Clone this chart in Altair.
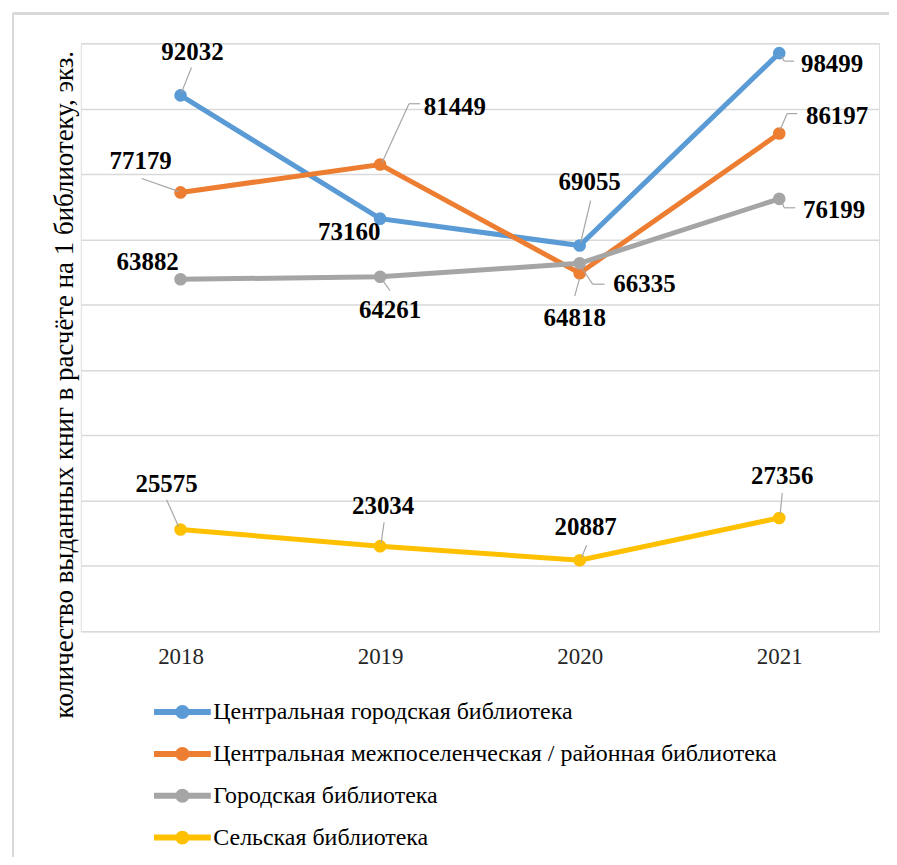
import altair as alt
import pandas as pd

# ---- data ----
years = ["2018", "2019", "2020", "2021"]
series = [
    "Центральная городская библиотека",
    "Центральная межпоселенческая / районная библиотека",
    "Городская библиотека",
    "Сельская библиотека",
]
central_city = [92032, 73160, 69055, 98499]
central_inter = [77179, 81449, 64818, 86197]
city_lib = [63882, 64261, 66335, 76199]
rural_lib = [25575, 23034, 20887, 27356]
series_values = [central_city, central_inter, city_lib, rural_lib]
colors = ["#5B9BD5", "#ED7D31", "#A5A5A5", "#FFC000"]

# ---- label layout (pixel offsets of each data label from its point) ----
label_offsets = [
    [(12, -44), (-31, 13), (10, -64), (53, 11)],
    [(-40, -31), (75, -58), (-5, 45), (58, -18)],
    [(-33, -17), (10, 33), (65, 21), (55, 11)],
    [(-14, -46), (3, -40), (6, -33), (3, -42)],
]
leader_paths = [
    [[(11, -28), (1, -3)], [], [(11, -45), (1, -3)], [(2, 3), (5, 8), (15, 8)]],
    [[(-39, -14), (-2, -1)], [(40, -61), (29, -61), (2, -2)], [(-5, 23), (0, 5)], [(1, -4), (8, -20), (18, -20)]],
    [[], [(10, 14), (3, 4)], [(3, 6), (13, 21), (25, 21)], [(3, 4), (5, 9), (16, 9)]],
    [[(-14, -30), (-2, -3)], [(4, -24), (1, -3)], [(7, -15), (2, -3)], [(3, -25), (1, -4)]],
]

rows = []
for s, vals in zip(series, series_values):
    for y, v in zip(years, vals):
        rows.append({"year": y, "series": s, "value": v})
df = pd.DataFrame(rows)

W, H = 801, 590
FONT = "Liberation Serif"

x_enc = alt.X("year:O", sort=years,
              scale=alt.Scale(type="point", padding=0.5),
              axis=alt.Axis(title=None, labelAngle=0, labelFont=FONT, labelFontSize=23,
                            labelColor="#262626", ticks=False, tickSize=0, domain=False,
                            grid=False, labelPadding=14))
y_enc = alt.Y("value:Q",
              scale=alt.Scale(domain=[10000, 100000], nice=False, zero=False),
              axis=alt.Axis(values=list(range(10000, 100001, 10000)), labels=False,
                            ticks=False, domain=False, gridColor="#d9d9d9", gridWidth=1.5,
                            title="количество выданных книг в расчёте на 1 библиотеку, экз.",
                            titleFont=FONT, titleFontSize=27, titleFontWeight="normal",
                            titleColor="#000000", titleAngle=-90, titleAlign="center",
                            titleBaseline="alphabetic", titleX=-8, titleY=342))

color_scale = alt.Scale(domain=series, range=colors)

legend_path = ("M-4.07,-0.43H4.07V0.43H-4.07Z "
               "M1,0A1,1 0 1,1 -1,0A1,1 0 1,1 1,0Z")
legend = alt.Legend(orient="none", legendX=90, legendY=659, title=None,
                    symbolType=legend_path, symbolSize=196,
                    symbolStrokeWidth=0, symbolOpacity=1,
                    labelFont=FONT, labelFontSize=24, labelColor="#000000",
                    labelOffset=19, rowPadding=18, padding=0,
                    labelLimit=0, direction="vertical")

base = alt.Chart(df)

lines = base.mark_line(strokeWidth=5).encode(
    x=x_enc, y=y_enc,
    color=alt.Color("series:N", scale=color_scale, sort=series, legend=legend),
    detail="series:N",
)

points = base.mark_circle(size=160, opacity=1).encode(
    x=alt.X("year:O", sort=years),
    y="value:Q",
    color=alt.Color("series:N", scale=color_scale, sort=series, legend=legend),
)

layers = [lines, points]

# leader lines
for si, s in enumerate(series):
    for yi, yr in enumerate(years):
        path = leader_paths[si][yi]
        for (a, b) in zip(path[:-1], path[1:]):
            seg = alt.Chart(df[(df.series == s) & (df.year == yr)]).mark_rule(
                color="#a6a6a6", strokeWidth=1.2,
                xOffset=a[0], yOffset=a[1], x2Offset=b[0], y2Offset=b[1],
            ).encode(
                x=alt.X("year:O", sort=years), x2="year:O",
                y="value:Q", y2="value:Q",
            )
            layers.append(seg)

# data labels
for si, s in enumerate(series):
    for yi, yr in enumerate(years):
        dx, dy = label_offsets[si][yi]
        lab = alt.Chart(df[(df.series == s) & (df.year == yr)]).mark_text(
            font=FONT, fontSize=25, fontWeight="bold", color="#000000",
            align="center", baseline="middle", dx=dx, dy=dy,
        ).encode(
            x=alt.X("year:O", sort=years), y="value:Q", text="value:Q",
        )
        layers.append(lab)

# chart-area border (top and left edges visible)
border_top = alt.Chart(df).mark_rule(color="#d9d9d9", strokeWidth=2).encode(
    x=alt.value(-68), x2=alt.value(830), y=alt.value(-30), y2=alt.value(-30))
border_left = alt.Chart(df).mark_rule(color="#d9d9d9", strokeWidth=2).encode(
    x=alt.value(-68), x2=alt.value(-68), y=alt.value(-30), y2=alt.value(830))
layers = [border_top, border_left] + layers

chart = alt.layer(*layers).properties(
    width=W, height=H,
    padding={"left": 73, "top": 34, "right": 10, "bottom": 225},
    autosize=alt.AutoSizeParams(type="none"),
).configure_view(stroke=None).configure(background="white")

chart.save("out.html", embed_options={"renderer": "svg", "actions": False})
